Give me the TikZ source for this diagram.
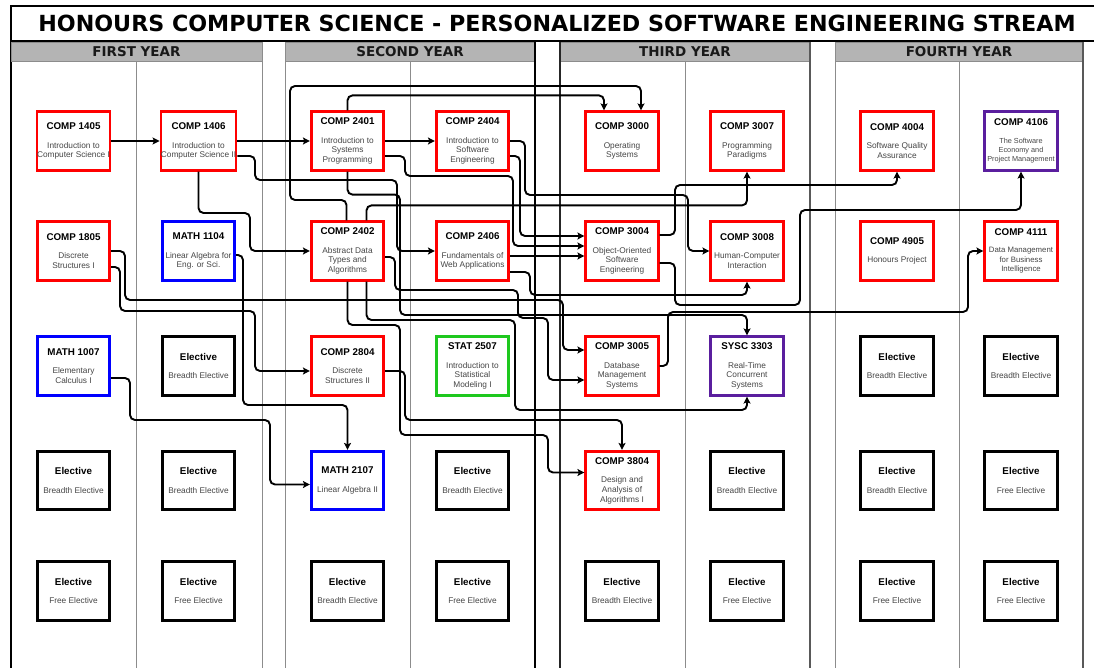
\documentclass[tikz,border=0pt]{standalone}
\usepackage{fontspec}
\setmainfont{Liberation Sans}
\newfontfamily\headfont{DejaVu Sans}
\usetikzlibrary{arrows.meta}
\definecolor{ured}{RGB}{255,0,0}
\definecolor{ublue}{RGB}{0,0,255}
\definecolor{ugreen}{RGB}{30,200,30}
\definecolor{upurple}{RGB}{90,30,158}
\definecolor{subtext}{RGB}{70,70,70}
\definecolor{bargray}{RGB}{180,180,180}
\definecolor{panelgray}{RGB}{140,140,140}
\newcommand{\ctitle}[1]{{\fontsize{9.8}{9.7}\selectfont\bfseries\color{black}#1}}

\begin{document}
\begin{tikzpicture}[x=1pt, y=-1pt,
	course/.style={draw=#1, line width=2.7pt, fill=white, minimum width=72.5pt, minimum height=58.5pt,
		inner sep=0pt, align=center, text=subtext, font=\fontsize{8.3}{9.7}\selectfont},
	wire/.style={line width=1.9pt, rounded corners=5pt},
	arr/.style={wire, -{Stealth[length=7pt,width=7pt,inset=1.5pt]}},
	panel/.style={draw=panelgray, line width=0.9pt},
	yearbar/.style={fill=bargray, draw=panelgray, line width=0.9pt},
	year/.style={font=\headfont\bfseries\fontsize{13.5}{14}\selectfont, text=black!90}]
	\useasboundingbox (0,0) rectangle (1094,668);
	\fill [white] (0,0) rectangle (1094,668);
	\draw [line width=2pt] (1094,6) -- (11,6) -- (11,668);
	\draw [line width=2pt] (11,41) -- (1094,41);
	\node [font=\headfont\bfseries\fontsize{22.2}{22}\selectfont] (title) at (557,23.5) {HONOURS COMPUTER SCIENCE - PERSONALIZED SOFTWARE ENGINEERING STREAM};
	\foreach \l/\r/\yr in {11/262/FIRST, 285/535/SECOND, 560/810/THIRD, 835/1083/FOURTH} {
		\draw [yearbar] (\l,42) rectangle (\r,61);
		\node [year] (y\yr) at ({(\l+\r)/2},51.5) {\yr\ YEAR};
	}
	\foreach \x in {136, 410, 685, 959} {
		\draw [panel] (\x,61) -- (\x,668);
	}
	\foreach \x in {262, 285, 835} {
		\draw [panel] (\x,42) -- (\x,668);
	}
	\draw [line width=1.6pt] (535,42) -- (535,668);
	\draw [line width=1.2pt, black!85] (560,42) -- (560,668);
	\draw [line width=1.1pt, black!65] (810,42) -- (810,668) (1083,42) -- (1083,668);

	\node [course=ured] (comp1405) at (73.5,141) {\ctitle{COMP 1405}\\[9pt]Introduction to\\Computer Science I};
	\node [course=ured] (comp1406) at (198.5,141) {\ctitle{COMP 1406}\\[9pt]Introduction to\\Computer Science II};
	\node [course=ured] (comp2401) at (347.5,141) {\ctitle{COMP 2401}\\[9pt]Introduction to\\Systems\\Programming};
	\node [course=ured] (comp2404) at (472.5,141) {\ctitle{COMP 2404}\\[9pt]Introduction to\\Software\\Engineering};
	\node [course=ured] (comp3000) at (622,141) {\ctitle{COMP 3000}\\[9pt]Operating\\Systems};
	\node [course=ured] (comp3007) at (747,141) {\ctitle{COMP 3007}\\[9pt]Programming\\Paradigms};
	\node [course=ured] (comp4004) at (897,141) {\ctitle{COMP 4004}\\[9pt]Software Quality\\Assurance};
	\node [course=upurple, font=\fontsize{7.3}{9.3}\selectfont] (comp4106) at (1021,141) {\ctitle{COMP 4106}\\[8pt]The Software\\Economy and\\Project Management};

	\node [course=ured] (comp1805) at (73.5,251) {\ctitle{COMP 1805}\\[9pt]Discrete\\Structures I};
	\node [course=ublue] (math1104) at (198.5,251) {\ctitle{MATH 1104}\\[9pt]Linear Algebra for\\Eng. or Sci.};
	\node [course=ured] (comp2402) at (347.5,251) {\ctitle{COMP 2402}\\[9pt]Abstract Data\\Types and\\Algorithms};
	\node [course=ured] (comp2406) at (472.5,251) {\ctitle{COMP 2406}\\[9pt]Fundamentals of\\Web Applications};
	\node [course=ured] (comp3004) at (622,251) {\ctitle{COMP 3004}\\[9pt]Object-Oriented\\Software\\Engineering};
	\node [course=ured] (comp3008) at (747,251) {\ctitle{COMP 3008}\\[9pt]Human-Computer\\Interaction};
	\node [course=ured] (comp4905) at (897,251) {\ctitle{COMP 4905}\\[9pt]Honours Project};
	\node [course=ured, font=\fontsize{7.8}{9.3}\selectfont] (comp4111) at (1021,251) {\ctitle{COMP 4111}\\[8pt]Data Management\\for Business\\Intelligence};

	\node [course=ublue] (math1007) at (73.5,366) {\ctitle{MATH 1007}\\[9pt]Elementary\\Calculus I};
	\node [course=ured] (comp2804) at (347.5,366) {\ctitle{COMP 2804}\\[9pt]Discrete\\Structures II};
	\node [course=ugreen] (stat2507) at (472.5,366) {\ctitle{STAT 2507}\\[9pt]Introduction to\\Statistical\\Modeling I};
	\node [course=ured] (comp3005) at (622,366) {\ctitle{COMP 3005}\\[9pt]Database\\Management\\Systems};
	\node [course=upurple] (sysc3303) at (747,366) {\ctitle{SYSC 3303}\\[9pt]Real-Time\\Concurrent\\Systems};

	\node [course=ublue] (math2107) at (347.5,480.5) {\ctitle{MATH 2107}\\[9pt]Linear Algebra II};
	\node [course=ured] (comp3804) at (622,480.5) {\ctitle{COMP 3804}\\[9pt]Design and\\Analysis of\\Algorithms I};

	\foreach \n/\x/\y/\k in {e32/198.5/366/Breadth, e37/897/366/Breadth, e38/1021/366/Breadth,
		e41/73.5/480.5/Breadth, e42/198.5/480.5/Breadth, e44/472.5/480.5/Breadth, e46/747/480.5/Breadth,
		e47/897/480.5/Breadth, e48/1021/480.5/Free, e51/73.5/591/Free, e52/198.5/591/Free,
		e53/347.5/591/Breadth, e54/472.5/591/Free, e55/622/591/Breadth, e56/747/591/Free,
		e57/897/591/Free, e58/1021/591/Free} {
		\node [course=black] (\n) at (\x,\y) {\ctitle{Elective}\\[9pt]\k\ Elective};
	}

	\draw [arr] (comp1405) -- (comp1406);
	\draw [arr] (comp1406) -- (comp2401);
	\draw [arr] (comp1406.south) |- (250,213) |- (comp2402.west);
	\draw [arr] ([yshift=-15pt]comp1406.east) -| (255,180) -- (397,180) |- (comp2406.west);
	\draw [arr] (comp2401) -- (comp2404);
	\draw [arr] (comp2401.north) -- ++(0,-15) -| ([xshift=-18pt]comp3000.north);
	\draw [arr] ([xshift=-1pt]comp2402.north) |- (290,200) -- (290,86) -| ([xshift=19pt]comp3000.north);
	\draw [arr] ([yshift=-15pt]comp2401.east) -| (405,176) -- (513,176) |- ([yshift=5pt]comp3004.west);
	\draw [arr] ([yshift=-15pt]comp2404.east) -| (520,236) -- ([yshift=15pt]comp3004.west);
	\draw [arr] ([yshift=-5pt]comp2406.east) -- ([yshift=-5pt]comp3004.west);
	\draw [arr] (comp2404.east) -| (525,195) -- (688,195) |- (comp3008.west);
	\draw [arr] ([xshift=19pt]comp2402.north) -- ++(0,-15) -| (comp3007.south);
	\draw [arr] ([yshift=-21pt]comp2406.east) -| (530,295) -| (comp3008.south);
	\draw [arr] ([yshift=16pt]comp3004.east) -| (675,185) -| (comp4004.south);
	\draw [arr] ([yshift=-12pt]comp3004.east) -| (675,305) -| (800,210) -| (comp4106.south);
	\draw [arr] (comp3005.east) -| (668,312) -| (968,251) -- (comp4111.west);
	\draw [arr] (comp1805.east) -| (125,300) -| (563,350) -- ([yshift=16pt]comp3005.west);
	\draw [arr] ([yshift=-16pt]comp1805.east) -| (120,311) -| (255,371) -- ([yshift=-5pt]comp2804.west);
	\draw [arr] ([yshift=-6pt]comp2402.east) -| (395,290) -| (518,318) -| (548,380) -- ([yshift=-14pt]comp3005.west);
	\draw [arr] (comp2401.south) -- ++(0,23) -| (400,315) -| (sysc3303.north);
	\draw [arr] ([xshift=19pt]comp2402.south) |- (515,320) -- (515,410) -| (sysc3303.south);
	\draw [arr] (comp2402.south) |- (400,325) |- (548,435) |- ([yshift=8pt]comp3804.west);
	\draw [arr] ([yshift=-5pt]comp2804.east) -| (405,420) -| (comp3804.north);
	\draw [arr] ([yshift=-4pt]math1104.east) -| (243,405) -| (math2107.north);
	\draw [arr] ([yshift=-12pt]math1007.east) -| (130,420) -| (270,484.5) -- ([yshift=-4pt]math2107.west);
\end{tikzpicture}
\end{document}
